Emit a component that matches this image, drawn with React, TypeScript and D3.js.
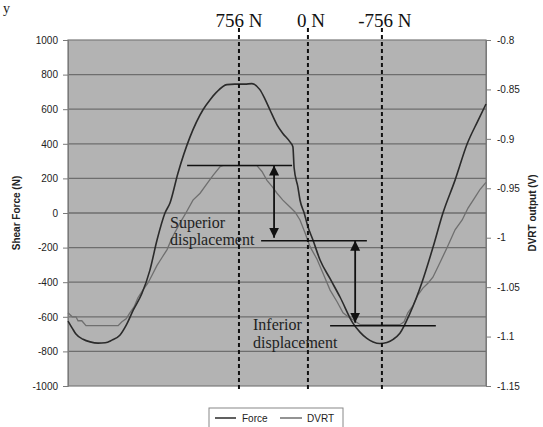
import React, { useRef, useEffect } from 'react'
import * as d3 from 'd3'

// time axis is arbitrary (0..100 across the plot)
const forceT = [0, 1, 1.9, 3.6, 5.3, 7.2, 8.9, 10.5, 12.4, 13.9, 15.6, 17.7, 19.6, 21.3, 23.2, 24.4, 26.3, 29.2, 32.3, 34.0, 35.6, 38.0, 39.9, 42.3, 44.0, 45.9, 47.1, 48.3, 50.0, 51.4, 53.1, 53.8, 54.1, 55.0, 55.5, 56.5, 57.4, 58.6, 60.3, 62.7, 65.1, 68.2, 69.9, 71.5, 73.0, 74.6, 76.3, 77.8, 79.4, 81.8, 84.7, 87.3, 89.7, 92.6, 95.5, 98.0, 100]
const forceN = [-625, -665, -700, -730, -745, -752, -750, -735, -707, -650, -562, -464, -330, -156, 0, 58, 230, 440, 597, 655, 700, 742, 745, 745, 748, 713, 660, 597, 510, 460, 411, 383, 260, 150, 75, 0, -80, -156, -272, -380, -487, -638, -690, -725, -745, -754, -748, -730, -695, -580, -400, -200, 0, 190, 400, 530, 630]

const dvrtT = [0, 1.0, 1.9, 2.4, 3.3, 4.3, 12.0, 12.9, 13.9, 14.8, 15.8, 16.7, 17.9, 19.1, 20.1, 21.3, 22.5, 23.7, 24.9, 26.8, 28.2, 29.9, 31.6, 33.3, 34.7, 36.4, 37.1, 45.2, 46.4, 47.6, 48.8, 50.0, 51.4, 53.1, 54.3, 55.5, 56.7, 57.9, 59.6, 61.0, 62.7, 64.4, 65.8, 67.0, 68.2, 69.9, 79.4, 80.4, 81.3, 82.5, 83.7, 84.9, 86.1, 87.3, 89.0, 90.7, 92.6, 94.3, 95.7, 97.4, 98.6, 100]
const dvrtV = [-1.076, -1.08, -1.08, -1.084, -1.084, -1.089, -1.089, -1.085, -1.082, -1.076, -1.07, -1.061, -1.053, -1.046, -1.038, -1.028, -1.02, -1.012, -1.0, -0.985, -0.975, -0.962, -0.955, -0.945, -0.937, -0.928, -0.927, -0.927, -0.933, -0.942, -0.948, -0.955, -0.962, -0.969, -0.974, -0.982, -0.995, -1.009, -1.022, -1.036, -1.053, -1.065, -1.076, -1.08, -1.083, -1.088, -1.088, -1.085, -1.076, -1.069, -1.058, -1.051, -1.046, -1.04, -1.025, -1.01, -0.992, -0.982, -0.97, -0.959, -0.951, -0.944]

const forceTicks = [1000, 800, 600, 400, 200, 0, -200, -400, -600, -800, -1000]
const voltTicks = [-0.8, -0.85, -0.9, -0.95, -1, -1.05, -1.1, -1.15]

const markerT = [40.9, 57.4, 75.1]
const markerLabels = ['756 N', '0 N', '-756 N']
const markerDx = [0, 3, 3]

// annotation levels (DVRT volts) and their extents
const levelV = [-0.927, -1.003, -1.089]
const levelFrom = [28.5, 46.2, 62.7]
const levelTo = [53.6, 71.5, 88.0]
const arrowT = [49.3, 68.7]

function App() {
    const svgRef = useRef()

    useEffect(() => {
        const svg = d3.select(svgRef.current)
        svg.selectAll('*').remove()

        const left = 68, right = 486, top = 40, bottom = 386

        const x = d3.scaleLinear().domain([0, 100]).range([left, right])
        const yF = d3.scaleLinear().domain([-1000, 1000]).range([bottom, top])
        const yV = d3.scaleLinear().domain([-1.15, -0.8]).range([bottom, top])

        svg.append('text').attr('x', 3).attr('y', 13)
            .attr('font-family', 'Liberation Serif').attr('font-size', 14).attr('fill', '#222').text('y')

        svg.append('rect')
            .attr('x', left).attr('y', top).attr('width', right - left).attr('height', bottom - top)
            .attr('fill', '#b3b3b3').attr('stroke', '#7a7a7a').attr('stroke-width', 1.2)

        // gridlines
        svg.append('g').selectAll('line')
            .data(forceTicks.slice(1, -1))
            .enter().append('line')
            .attr('x1', left).attr('x2', right)
            .attr('y1', d => yF(d)).attr('y2', d => yF(d))
            .attr('stroke', '#6e6e6e').attr('stroke-width', 1.3)

        // left axis
        const gl = svg.append('g').attr('transform', `translate(${left},0)`)
            .call(d3.axisLeft(yF).tickValues(forceTicks).tickSize(5).tickPadding(5).tickFormat(d => String(d)))
        gl.select('.domain').attr('stroke', '#7a7a7a')
        gl.selectAll('line').attr('stroke', '#7a7a7a')
        gl.selectAll('text').attr('font-family', 'Liberation Sans, Arial').attr('font-size', 10).attr('fill', '#222')

        // right axis
        const gr = svg.append('g').attr('transform', `translate(${right},0)`)
            .call(d3.axisRight(yV).tickValues(voltTicks).tickSize(5).tickPadding(6).tickFormat(d => String(d)))
        gr.select('.domain').attr('stroke', '#7a7a7a')
        gr.selectAll('line').attr('stroke', '#7a7a7a')
        gr.selectAll('text').attr('font-family', 'Liberation Sans, Arial').attr('font-size', 10).attr('fill', '#222')

        svg.append('text')
            .attr('transform', `translate(20,${(top + bottom) / 2}) rotate(-90)`)
            .attr('text-anchor', 'middle').attr('font-family', 'Liberation Sans, Arial')
            .attr('font-size', 10).attr('font-weight', 'bold').attr('fill', '#222')
            .text('Shear Force (N)')
        svg.append('text')
            .attr('transform', `translate(536,${(top + bottom) / 2}) rotate(-90)`)
            .attr('text-anchor', 'middle').attr('font-family', 'Liberation Sans, Arial')
            .attr('font-size', 10).attr('font-weight', 'bold').attr('fill', '#222')
            .text('DVRT output (V)')

        // series
        const forceData = forceT.map((t, i) => [t, forceN[i]])
        const dvrtData = dvrtT.map((t, i) => [t, dvrtV[i]])

        svg.append('path').datum(dvrtData)
            .attr('fill', 'none').attr('stroke', '#6f6f6f').attr('stroke-width', 1.3)
            .attr('d', d3.line().x(d => x(d[0])).y(d => yV(d[1])))
        svg.append('path').datum(forceData)
            .attr('fill', 'none').attr('stroke', '#2b2b2b').attr('stroke-width', 1.6)
            .attr('d', d3.line().curve(d3.curveMonotoneX).x(d => x(d[0])).y(d => yF(d[1])))

        // dashed markers
        const mk = svg.append('g')
        mk.selectAll('line').data(markerT).enter().append('line')
            .attr('x1', d => x(d)).attr('x2', d => x(d))
            .attr('y1', 28).attr('y2', 391)
            .attr('stroke', '#111').attr('stroke-width', 2).attr('stroke-dasharray', '4,3')
        mk.selectAll('text').data(markerT).enter().append('text')
            .attr('x', (d, i) => x(d) + markerDx[i]).attr('y', 27)
            .attr('text-anchor', 'middle').attr('font-family', 'Liberation Serif')
            .attr('font-size', 19).attr('fill', '#111')
            .text((d, i) => markerLabels[i])

        // annotation levels
        svg.append('g').selectAll('line').data(levelV).enter().append('line')
            .attr('x1', (d, i) => x(levelFrom[i])).attr('x2', (d, i) => x(levelTo[i]))
            .attr('y1', d => yV(d)).attr('y2', d => yV(d))
            .attr('stroke', '#111').attr('stroke-width', 1.4)

        const defs = svg.append('defs')
        defs.append('marker').attr('id', 'ah').attr('viewBox', '0 0 10 10')
            .attr('refX', 10).attr('refY', 5)
            .attr('orient', 'auto-start-reverse').attr('markerUnits', 'userSpaceOnUse')
            .attr('markerWidth', 10).attr('markerHeight', 11)
            .append('path').attr('d', 'M0,0 L10,5 L0,10 Z').attr('fill', '#111')

        svg.append('g').selectAll('line').data(arrowT).enter().append('line')
            .attr('x1', d => x(d)).attr('x2', d => x(d))
            .attr('y1', (d, i) => yV(levelV[i])).attr('y2', (d, i) => yV(levelV[i + 1]) - 3)
            .attr('stroke', '#111').attr('stroke-width', 1.8)
            .attr('marker-start', 'url(#ah)').attr('marker-end', 'url(#ah)')

        const note = svg.append('g').attr('font-family', 'Liberation Serif').attr('font-size', 16).attr('fill', '#222')
        note.append('text').attr('x', 170).attr('y', 228).text('Superior')
        note.append('text').attr('x', 170).attr('y', 245).text('displacement')
        note.append('text').attr('x', 253).attr('y', 330).text('Inferior')
        note.append('text').attr('x', 253).attr('y', 348).text('displacement')

        // legend
        const lg = svg.append('g')
        lg.append('rect').attr('x', 209).attr('y', 408).attr('width', 134).attr('height', 20)
            .attr('fill', '#fff').attr('stroke', '#888')
        lg.append('line').attr('x1', 215).attr('x2', 236).attr('y1', 418).attr('y2', 418).attr('stroke', '#2b2b2b').attr('stroke-width', 1.5)
        lg.append('text').attr('x', 242).attr('y', 422).attr('font-family', 'Liberation Sans, Arial').attr('font-size', 10).attr('fill', '#222').text('Force')
        lg.append('line').attr('x1', 280).attr('x2', 302).attr('y1', 418).attr('y2', 418).attr('stroke', '#6f6f6f').attr('stroke-width', 1.5)
        lg.append('text').attr('x', 307).attr('y', 422).attr('font-family', 'Liberation Sans, Arial').attr('font-size', 10).attr('fill', '#222').text('DVRT')
    }, [])

    return (
        <svg ref={svgRef} width="543" height="427" style={{ position: 'absolute', left: 0, top: 0, background: '#fff' }}></svg>
    )
}

export default App
